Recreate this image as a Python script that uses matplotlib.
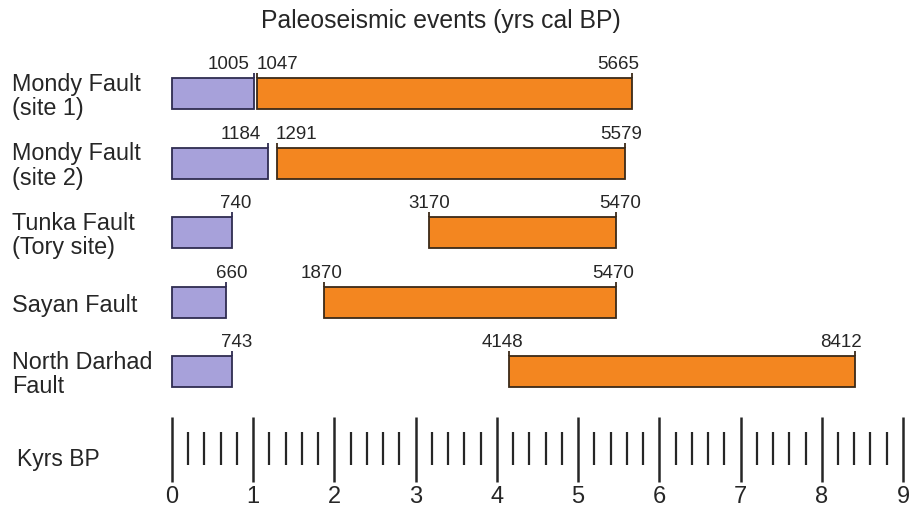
import numpy as np
import matplotlib
matplotlib.use("Agg")
import matplotlib.pyplot as plt

plt.rcParams['font.family'] = ['Liberation Sans', 'DejaVu Sans']

# ---- data ----
faults = ["Mondy Fault\n(site 1)", "Mondy Fault\n(site 2)", "Tunka Fault\n(Tory site)",
          "Sayan Fault", "North Darhad\nFault"]
recent_event = [1005, 1184, 740, 660, 743]          # purple bar end (yrs cal BP)
older_start = [1047, 1291, 3170, 1870, 4148]         # orange bar start
older_end = [5665, 5579, 5470, 5470, 8412]           # orange bar end
tick_labels = ["0", "1", "2", "3", "4", "5", "6", "7", "8", "9"]
title = "Paleoseismic events (yrs cal BP)"
axis_label = "Kyrs BP"

# ---- style / layout ----
W, H = 911, 514
PXK = 81.22            # pixels per kyr
X0 = 172               # pixel of 0 kyr
ROW0, ROWSTEP = 93.5, 69.5


def py(p):             # pixel y -> row units
    return (p - ROW0) / ROWSTEP


BAR_H = 31 / ROWSTEP
PURPLE = "#a7a1da"
PURPLE_EDGE = "#2f2c50"
ORANGE = "#f38620"
ORANGE_EDGE = "#3b2a18"
TXT = "#262626"
# label x offsets in pixels (purple end, orange start, orange end)
off_recent = [-25, -27, 4, 6, 4]
off_start = [20, 20, 0, -2, -6]
off_end = [-14, -4, 4, -3, -14]

fig = plt.figure(figsize=(W / 100, H / 100), dpi=100)
ax = fig.add_axes([0, 0, 1, 1])
ax.set_xlim(-X0 / PXK, (W - X0) / PXK)
ax.set_ylim(py(H), py(0))
ax.axis("off")

rows = np.arange(len(faults))
rec = np.array(recent_event) / 1000
st = np.array(older_start) / 1000
en = np.array(older_end) / 1000

ax.barh(rows, rec, left=0, height=BAR_H, color=PURPLE, edgecolor=PURPLE_EDGE, linewidth=1.3)
ax.barh(rows, en - st, left=st, height=BAR_H, color=ORANGE, edgecolor=ORANGE_EDGE, linewidth=1.3)

ext = 5 / ROWSTEP
for i in rows:
    top = i - BAR_H / 2
    for val, off, col in [(recent_event[i], off_recent[i], PURPLE_EDGE),
                          (older_start[i], off_start[i], ORANGE_EDGE),
                          (older_end[i], off_end[i], ORANGE_EDGE)]:
        x = val / 1000
        ax.vlines(x, top - ext, top, color=col, linewidth=1.3)
        ax.annotate(str(val), xy=(x, top), xytext=(off, 9), textcoords="offset pixels",
                    ha="center", va="baseline", fontsize=13.5, color=TXT)
    ax.text((12 - X0) / PXK, i + 3 / ROWSTEP, faults[i], ha="left", va="center",
            fontsize=16.8, color=TXT, linespacing=1.1)

# ruler
major = np.arange(0, 10)
minor = np.array([m / 5 for m in range(0, 46) if m % 5 != 0])
ax.vlines(major, py(417), py(482), color=TXT, linewidth=1.8)
ax.vlines(minor, py(432), py(465), color=TXT, linewidth=1.6)
for t, lab in zip(major, tick_labels):
    ax.text(t, py(497), lab, ha="center", va="center", fontsize=17, color=TXT)

ax.text((17 - X0) / PXK, py(459), axis_label, ha="left", va="center", fontsize=16.5, color=TXT)
fig.text(441 / W, 1 - 21 / H, title, ha="center", va="center", fontsize=17.8, color=TXT)

fig.savefig("out.png", dpi=100)
